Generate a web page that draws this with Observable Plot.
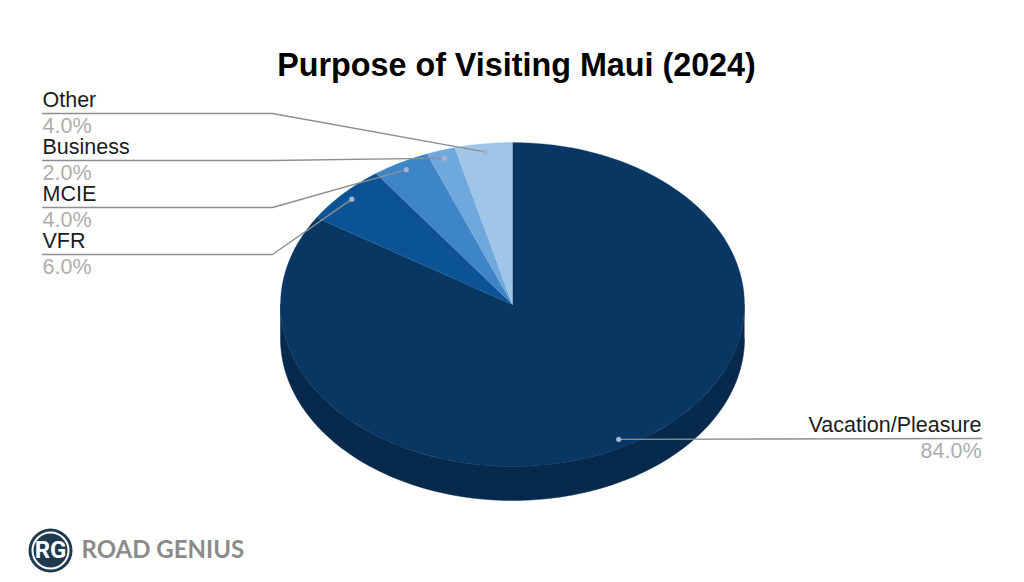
<!DOCTYPE html>
<html>
<head>
<meta charset="utf-8">
<script src="https://cdn.jsdelivr.net/npm/d3@7"></script>
<script src="https://cdn.jsdelivr.net/npm/@observablehq/plot@0.6"></script>
<style>
html,body{margin:0;padding:0;background:#fff;overflow:hidden}
svg{display:block}
</style>
</head>
<body>
<div id="chart"></div>
<script>
// Data
const categories = ["Vacation/Pleasure", "VFR", "MCIE", "Business", "Other"];
const shares = [84, 6, 4, 2, 4];
const sliceColors = ["#083763", "#0b5394", "#3d85c6", "#6fa8dc", "#9fc5e8"];
const chartTitle = "Purpose of Visiting Maui (2024)";
const brandMark = "RG";
const brandName = "ROAD GENIUS";

// Layout
const W = 1024, H = 582;
const cx = 512, cy = 304, rx = 232, ry = 162, depth = 34;
const font = "'Liberation Sans', Arial, sans-serif";
const px = a => cx + rx * Math.sin(a);
const py = a => cy - ry * Math.cos(a);
const arc = (a0, a1) => d3.range(0, 121).map(i => a0 + (a1 - a0) * i / 120);

// Slices, clockwise from twelve o'clock
const total = d3.sum(shares);
let run = 0;
const slices = categories.map((name, i) => {
  const a0 = run / total * 2 * Math.PI;
  run += shares[i];
  const a1 = run / total * 2 * Math.PI;
  const mid = (a0 + a1) / 2;
  return {
    name, share: shares[i], color: sliceColors[i], mid,
    pts: [{x: cx, y: cy}, ...arc(a0, a1).map(a => ({x: px(a), y: py(a)}))],
    dot: {x: cx + 0.95 * rx * Math.sin(mid), y: cy - 0.95 * ry * Math.cos(mid)}
  };
});

// Front wall of the pie
const front = arc(Math.PI / 2, 3 * Math.PI / 2);
const wall = [
  ...front.map(a => ({x: px(a), y: py(a)})),
  ...front.slice().reverse().map(a => ({x: px(a), y: py(a) + depth}))
];

// Labels and leader lines
const left = ["Other", "Business", "MCIE", "VFR"].map((name, i) => {
  const s = slices.find(d => d.name === name);
  return {...s, rule: 113 + 47 * i, x: 42, anchor: "start"};
});
const right = [{...slices[0], rule: 438, x: 981, anchor: "end"}];
const leaders = [
  ...left.flatMap(d => [
    {k: d.name, x: d.x, y: d.rule},
    {k: d.name, x: 272, y: d.rule},
    {k: d.name, x: d.dot.x, y: d.dot.y}
  ]),
  ...right.flatMap(d => [
    {k: d.name, x: d.x, y: d.rule},
    {k: d.name, x: d.dot.x, y: d.dot.y}
  ])
];
const labelled = [...left, ...right];
const fmt = v => v.toFixed(1) + "%";

const textMark = (rows, y, text, opts) => ["start", "end"].map(anchor =>
  Plot.text(rows.filter(d => d.anchor === anchor), {
    x: "x", y, text, textAnchor: anchor, lineAnchor: "bottom", fontFamily: font, ...opts
  }));

const chart = Plot.plot({
  width: W, height: H,
  margin: 0,
  x: {domain: [0, W], range: [0, W], axis: null},
  y: {domain: [0, H], range: [0, H], axis: null},
  marks: [
    Plot.line(wall, {x: "x", y: "y", fill: "#07294c", stroke: "#07294c", strokeWidth: 0.5}),
    ...slices.map(s => Plot.line(s.pts, {x: "x", y: "y", fill: s.color, stroke: s.color, strokeWidth: 0.3})),
    Plot.line(leaders, {x: "x", y: "y", z: "k", stroke: "#8a8f96", strokeWidth: 1.4, curve: "linear"}),
    Plot.dot(labelled, {x: d => d.dot.x, y: d => d.dot.y, r: 2.6, fill: "#a3b3cc"}),
    ...textMark(labelled, d => d.rule - 7, "name", {fontSize: 21.5, fill: "#1c1c1c"}),
    ...textMark(labelled, d => d.rule + 19, d => fmt(d.share), {fontSize: 21.5, fill: "#adadad"}),
    Plot.text([chartTitle], {x: () => 516, y: () => 75, text: d => d, lineAnchor: "bottom", fontFamily: font, fontWeight: 700, fontSize: 32.3, fill: "#000"}),
    Plot.dot([brandMark], {x: () => 50, y: () => 550, r: 22, fill: "#1d3a50"}),
    Plot.dot([brandMark], {x: () => 50, y: () => 550, r: 18, fill: "none", stroke: "#fff", strokeWidth: 2}),
    Plot.text([brandMark], {x: () => 50, y: () => 550, text: d => d, fontFamily: "'Liberation Sans Narrow', 'Roboto', sans-serif", fontWeight: 700, fontSize: 24, fill: "#fff"}),
    Plot.text([brandName], {x: () => 81, y: () => 550, text: d => d, textAnchor: "start", fontFamily: "'Lato', sans-serif", fontWeight: 700, fontSize: 24, fill: "#8b8b8b"})
  ]
});
document.getElementById("chart").append(chart);
</script>
</body>
</html>
